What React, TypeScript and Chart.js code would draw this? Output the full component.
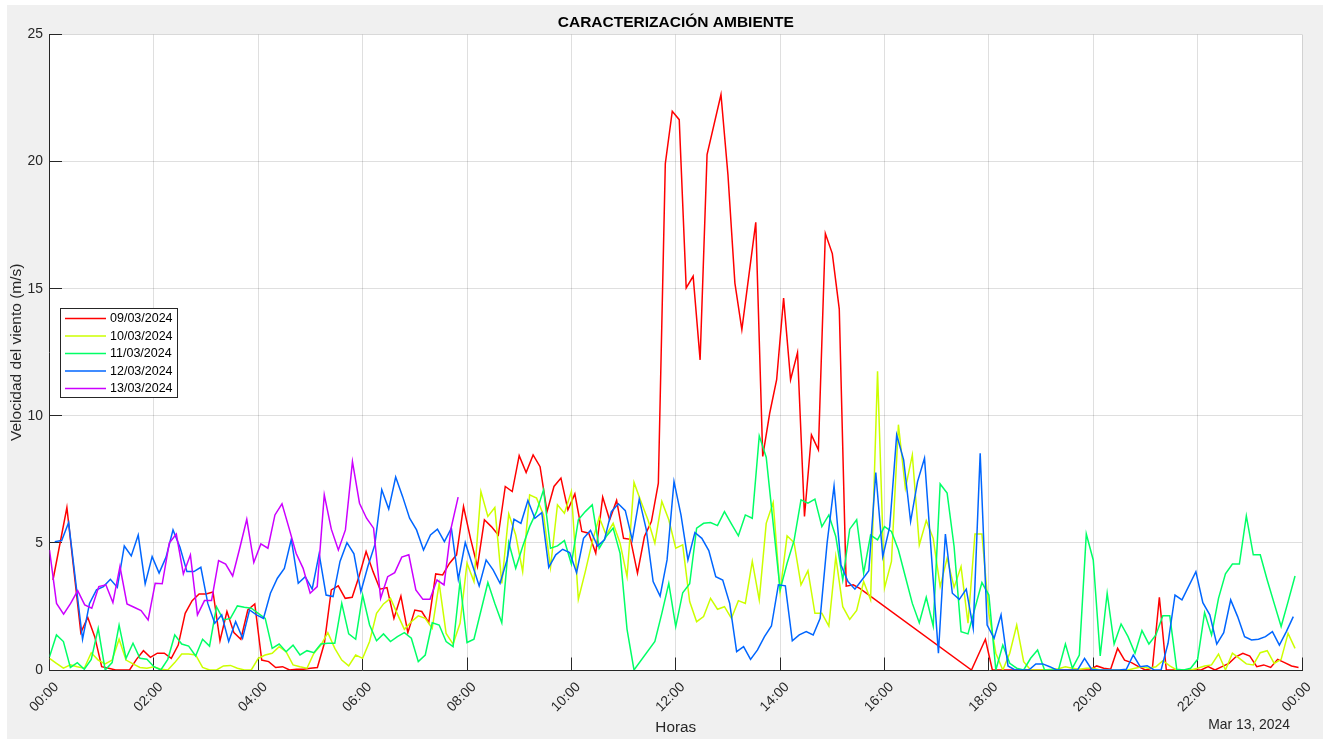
import React, { useEffect, useRef } from 'react';
import { Chart, registerables } from 'chart.js';

Chart.register(...registerables);

const CHART_TITLE = 'CARACTERIZACIÓN AMBIENTE';
const Y_TITLE = 'Velocidad del viento (m/s)';
const X_TITLE = 'Horas';
const DATE_LABEL = 'Mar 13, 2024';

const SERIES_LABELS = ['09/03/2024', '10/03/2024', '11/03/2024', '12/03/2024', '13/03/2024'];
const SERIES_COLORS = ['#ff0000', '#ccff00', '#00ff66', '#0066ff', '#cc00ff'];
const SERIES_STEP_MIN = [8, 8, 8, 8, 8.1];
const SERIES_START_MIN = [4, 0, 0, 6, 0];

const Y_TICKS = [0, 5, 10, 15, 20, 25];
const X_TICK_HOURS = [0, 2, 4, 6, 8, 10, 12, 14, 16, 18, 20, 22, 24];

const N = null;

const v0903 = [
  3.54, N, 6.39, N, 1.47, 2.07, 1.31, 0.13, 0.07, 0,
  0, 0, 0.42, 0.76, 0.5, 0.66, 0.66, 0.46, 0.98, 2.23,
  2.73, 2.99, 2.99, 3.07, 1.15, 2.3, 1.47, 1.21, 2.36, 2.6,
  0.39, 0.33, 0.1, 0.13, 0, 0.03, 0.03, 0.07, 0.1, 1.05,
  3.15, 3.31, 2.82, 2.86, 3.7, 4.66, 3.87, 3.18, 3.24, 2.03,
  2.91, 1.47, 2.36, 2.3, 1.86, 3.78, 3.74, 4.2, 4.53, 6.43,
  5.18, 4.07, 5.91, 5.64, 5.31, 7.22, 7.02, 8.43, 7.77, 8.46,
  8.0, 6.23, 7.22, 7.55, 6.3, 6.93, 5.45, 5.38, 4.59, 6.8,
  5.91, 6.67, 5.18, 5.14, 3.81, 5.25, 5.84, 7.35,
  19.92, 21.98, 21.65, 15.03, 15.49, 12.2, 20.28, N, 22.64, 19.49,
  15.22, 13.39, N, 17.61, 8.4, 10.1, 11.42, 14.63, 11.42, 12.49,
  6.04, 9.25, 8.66, 17.17, 16.38, 14.2, 3.3, 3.35, 3.2,
  N, N, N, N, N, N, N, N, N, N, N, N, N, N, N,
  0, N, 1.21,
  0, 0, 0, 0, 0, 0, 0, 0, 0, 0, 0, 0, 0, 0, 0,
  0.16, 0.07, 0.03, 0.85, 0.39, 0.29, 0.13, 0, 0.07, 2.86,
  0, 0, 0, 0, 0, 0, 0.13, 0, 0.13, 0.26,
  0.52, 0.66, 0.55, 0.13, 0.2, 0.1, 0.42, 0.29, 0.16, 0.1,
];

const v1003 = [
  0.46, 0.26, 0.07, 0.2, 0.13, 0.07, 0.68, 0.39, 0.24, 0.39,
  1.21, 0.39, 0.24, 0.1, 0.07, 0.13, 0.03, 0, 0.29, 0.63,
  0.63, 0.59, 0.1, 0, 0, 0.16, 0.18, 0.07, 0, 0,
  0.46,
  0.59, 0.66, 0.92, 0.72, 0.2, 0.13, 0.07, 0.66, 0.98, 1.47,
  0.85, 0.39, 0.16, 0.59, 0.46, 1.12, 2.23, 2.6, 2.82, 2.2,
  1.6, 1.9, 2.13, 2.03, 1.64, 3.41, 1.44, 1.02, 1.84, 4.2,
  3.48, 7.02, 6.04, 6.39, 3.41, 6.14, 5.31, 3.87, 6.89, 6.76,
  6.1, 4.04, 6.5, 6.17, 7.02, 2.78, 3.87, 5.05, 6.01, 5.31,
  5.77, 4.99, 3.67, 7.38, 6.63, 5.91, 4.99, 6.63, 5.91, 4.79, 4.92,
  2.69, 1.9, 2.1, 2.82, 2.39, 2.49, 2.03, 2.73, 2.62, 4.27,
  2.76, 5.77, 6.59, 3.08, 5.28, 5.01, 3.35, 3.91, 2.23, 2.23,
  1.73, 4.46, 2.49, 1.99, 2.34, 3.48, 2.76, 11.75, 3.22, 4.27,
  9.65, 7.15, 8.46, 4.92, 5.88, 5.18, 3.28, 4.4, 3.25, 4.07,
  1.84, 5.35, 5.35, 2.23, 0.66, 0, 0.66, 1.77, 0.33, 0,
  0, 0, 0.03, 0.05, 0.13, 0.07, 0.03, 0.07,
  0.07, 0, 0, 0, 0, 0, 0.07, 0.13, 0.07, 0.13,
  0.37, 0.16, 0, 0, 0, 0.07, 0.16, 0.2, 0.63, 0,
  0.66, 0.46, 0.24, 0.2, 0.68, 0.76, 0.26, 0.42, 1.44, 0.85,
];

const v1103 = [
  0.52, 1.38, 1.12, 0.1, 0.29, 0.03, 0.42, 1.64, 0, 0.29,
  1.77, 0.46, 1.05, 0.46, 0.42, 0.13, 0, 0.42, 1.38, 1.02,
  0.94, 0.55, 1.21, 0.94, 2.49, 1.97, 2.03, 2.52, 2.47, 2.43,
  2.23, 2.03,
  0.85, 1.02, 0.72, 0.98, 0.59, 0.76, 0.68, 1.02, 1.05, 1.05,
  2.62, 1.42, 1.21, 2.95, 1.77, 1.15, 1.42, 1.12, 1.31, 1.47,
  1.25, 0.33, 0.59, 1.86, 1.77, 1.12, 0.92, 3.48, 1.08,
  1.21, N, 3.44, 2.62, 1.86, 5.01, 4.0, 4.86, 5.64, 6.23,
  7.09, 4.79, 4.88, 5.09, 4.17, 5.91, 6.23, 6.5, 4.79, 5.25,
  5.58, 4.59, 1.6, 0, N, N, 1.12, 2.23, 3.41, 1.71,
  3.04, 3.39, 5.58, 5.77, 5.8, 5.68, 6.23, 5.75, 5.28, 6.1,
  5.97, 9.21, 8.37, N, 3.15, 4.2, 5.09, 6.69, 6.56, 6.72,
  5.64, 6.1, 5.25, 3.54, 5.54, 5.91, 3.81, 5.31, 5.12, 5.64,
  5.45, 4.72, 3.67, 2.62, 1.86, 2.86, 1.73, 7.32, 6.96, 4.86,
  1.51, 1.42, N, 3.44, 2.95, 0, 0.98, 0.26, 0.07, 0,
  0.46, 0.79, 0, 0, 0, 1.02, 0.07, 0.59, 5.35, 4.33,
  0.55, 3.02, 1.02, 1.81, 1.31, 0.66, 1.55, 1.02, 1.38, 2.13,
  2.13, 0.03, 0, 0.07, 0.42, 2.26, 1.38, 2.82, 3.78, 4.17,
  4.17, 6.06, 4.53, 4.53, 3.54, 2.62, 1.71, 2.69, 3.7,
];

const v1203 = [
  5.05, 5.09, 5.8, N, 1.21, 2.62, 3.15, 3.28, 3.57, 3.25,
  4.88, 4.49, 5.31, 3.39, 4.46, 3.81, 4.44, 5.51, 4.83, 3.87,
  3.87, 4.04, 2.62, 1.84, 2.17, 1.12, 1.9, 1.25, 2.36, 2.17,
  2.03, 3.02, 3.61, 4.0, 5.14, 3.41, 3.67, 3.18, 4.57, 2.95,
  2.89, 4.27, 5.01, 4.57, 3.08, 4.07, 4.92, 7.09, 6.33, 7.59,
  6.82, 5.97, 5.51, 4.72, 5.31, 5.54, 5.05, 5.58, 3.57, 5.01,
  N,
  3.31, 4.33, 3.94, 3.41, 4.33, 5.93, 5.77, 6.67, 5.97, 6.19,
  4.04, 4.53, 4.75, 4.62, 3.83, 5.18, 5.49, 4.88, 5.12, 6.23,
  6.54, 6.27, 5.12, 6.72, 5.54, 3.48, 2.91, 4.33, 7.41,
  6.1, 4.33, 5.41, 5.18, 4.7, 3.67, 3.54, 2.62, 0.72, 0.92,
  0.42, 0.79, 1.31, 1.73, 3.35, 3.31, 1.15, 1.38, 1.51, 1.38,
  2.03, 4.99, 7.24, 4.13, 3.48, 3.18, 3.54, 3.91, 7.77, 4.46,
  5.64, 9.25,
  8.27, 5.84, 7.41, 8.33, N, 0.66, 5.35, 3.02, 2.78, 3.18,
  1.64, 8.53, 1.77, 1.25, 2.17, 0.16, 0, 0, 0, 0.24,
  0.24, 0.13, 0, 0, 0, 0, 0.46, 0.03,
  0, 0, 0, 0, 0.03, 0.59, 0.13, 0.17, 0, 0,
  1.05, 2.95, 2.76, N, 3.87, 2.65, 2.17, 1.02, 1.47, 2.76,
  2.1, 1.31, 1.18, 1.21, 1.31, 1.51, 0.98, 1.51, 2.1,
];

const v1303 = [
  4.72, 2.62, 2.2, 2.62, 3.12, 2.56, 2.43, 3.28, 3.35, 2.65,
  4.07, 2.6, 2.47, 2.34, 1.97, 3.41, 3.39, 4.99, 5.35, 3.78,
  4.53, 2.17, 2.73, 2.73, 4.3, 4.17, 3.7, 4.79, 5.93, 4.23,
  4.96, 4.79, 6.1, 6.54, 5.58, 4.59, 4.0, 3.02, 3.28, 6.89,
  5.54, 4.72, 5.51, 8.2, 6.56, 5.97, 5.58, 2.82, 3.67, 3.83,
  4.44, 4.53, 3.15, 2.78, 2.78, 3.54, 3.35, 5.58, 6.8,
];

const SERIES_VALUES = [v0903, v1003, v1103, v1203, v1303];

const FONT = '"Liberation Sans", Arial, Helvetica, sans-serif';
const AXIS_COLOR = '#262626';

function toPoints(values: (number | null)[], startMin: number, stepMin: number) {
  return values.map((v, k) => ({ x: (startMin + k * stepMin) / 60, y: v }));
}

function hourLabel(h: number) {
  return String(h % 24).padStart(2, '0') + ':00';
}

const plotBackground = {
  id: 'plotBackground',
  beforeDraw(chart: any) {
    const { ctx, chartArea } = chart;
    ctx.save();
    ctx.fillStyle = '#ffffff';
    ctx.fillRect(chartArea.left, chartArea.top, chartArea.right - chartArea.left, chartArea.bottom - chartArea.top);
    ctx.restore();
  },
};

const innerTicks = {
  id: 'innerTicks',
  beforeDatasetsDraw(chart: any) {
    const { ctx, chartArea, scales } = chart;
    const len = 12.5;
    ctx.save();
    ctx.strokeStyle = AXIS_COLOR;
    ctx.lineWidth = 1;
    ctx.beginPath();
    for (const t of Y_TICKS) {
      const py = Math.round(scales.y.getPixelForValue(t) - 0.5) + 0.5;
      ctx.moveTo(chartArea.left, py);
      ctx.lineTo(chartArea.left + len, py);
    }
    for (const h of X_TICK_HOURS) {
      const px = Math.round(scales.x.getPixelForValue(h) - 0.5) + 0.5;
      ctx.moveTo(px, chartArea.bottom);
      ctx.lineTo(px, chartArea.bottom - len);
    }
    ctx.stroke();
    ctx.restore();
  },
};

const boxLegend = {
  id: 'boxLegend',
  afterDatasetsDraw(chart: any) {
    const { ctx, chartArea } = chart;
    const x0 = Math.round(chartArea.left + 10.5);
    const y0 = Math.round(chartArea.top + 273);
    const w = 117;
    const h = 89;
    ctx.save();
    ctx.fillStyle = '#ffffff';
    ctx.fillRect(x0, y0, w, h);
    ctx.strokeStyle = AXIS_COLOR;
    ctx.lineWidth = 1;
    ctx.strokeRect(x0 + 0.5, y0 + 0.5, w, h);
    chart.data.datasets.forEach((ds: any, i: number) => {
      const cy = y0 + 10.5 + i * 17.5;
      ctx.strokeStyle = ds.borderColor;
      ctx.lineWidth = 1.5;
      ctx.beginPath();
      ctx.moveTo(x0 + 5, cy);
      ctx.lineTo(x0 + 46, cy);
      ctx.stroke();
      ctx.fillStyle = '#000000';
      ctx.font = '12.5px ' + FONT;
      ctx.textAlign = 'left';
      ctx.textBaseline = 'middle';
      ctx.fillText(ds.label, x0 + 50, cy + 0.5);
    });
    ctx.restore();
  },
};

const extraTexts = {
  id: 'extraTexts',
  afterDraw(chart: any) {
    const { ctx, chartArea } = chart;
    ctx.save();
    ctx.fillStyle = '#000000';
    ctx.font = 'bold 15.5px ' + FONT;
    ctx.textAlign = 'center';
    ctx.textBaseline = 'middle';
    ctx.fillText(CHART_TITLE, (chartArea.left + chartArea.right) / 2, chartArea.top - 12);
    ctx.fillStyle = AXIS_COLOR;
    ctx.font = '13.9px ' + FONT;
    ctx.textAlign = 'right';
    ctx.fillText(DATE_LABEL, chartArea.right - 12, chartArea.bottom + 55.5);
    ctx.restore();
  },
};

export default function App() {
  const canvasRef = useRef<HTMLCanvasElement | null>(null);

  useEffect(() => {
    const canvas = canvasRef.current;
    if (!canvas) return;
    const datasets = SERIES_LABELS.map((label, i) => ({
      label,
      data: toPoints(SERIES_VALUES[i], SERIES_START_MIN[i], SERIES_STEP_MIN[i]),
      borderColor: SERIES_COLORS[i],
      backgroundColor: SERIES_COLORS[i],
      borderWidth: 1.5,
      pointRadius: 0,
      pointHoverRadius: 0,
      tension: 0,
      fill: false,
      spanGaps: true,
      order: SERIES_LABELS.length - i,
    }));

    const chart = new Chart(canvas, {
      type: 'line',
      data: { datasets },
      options: {
        responsive: false,
        animation: false,
        devicePixelRatio: 1,
        parsing: false as any,
        normalized: true,
        layout: { padding: { top: 29.5, right: 21, bottom: 0, left: 0 } },
        plugins: {
          legend: { display: false },
          tooltip: { enabled: false },
          title: { display: false },
        },
        scales: {
          x: {
            type: 'linear',
            min: 0,
            max: 24,
            afterFit: (scale: any) => { scale.height = 69; },
            ticks: {
              stepSize: 2,
              autoSkip: false,
              minRotation: 45,
              maxRotation: 45,
              padding: 9,
              labelOffset: 7,
              color: AXIS_COLOR,
              font: { family: FONT, size: 13.9 },
              callback: (v: any) => hourLabel(Number(v)),
            },
            grid: { color: 'rgba(38,38,38,0.15)', drawTicks: false, lineWidth: 1 },
            border: { display: true, color: AXIS_COLOR, width: 1 },
            title: {
              display: true,
              text: X_TITLE,
              color: AXIS_COLOR,
              font: { family: FONT, size: 15.3 },
              padding: { top: 0, bottom: 2.5 },
            },
          },
          y: {
            type: 'linear',
            min: 0,
            max: 25,
            afterFit: (scale: any) => { scale.width = 42.5; },
            ticks: {
              stepSize: 5,
              padding: 6.5,
              color: AXIS_COLOR,
              font: { family: FONT, size: 13.9 },
            },
            grid: { color: 'rgba(38,38,38,0.15)', drawTicks: false, lineWidth: 1 },
            border: { display: true, color: AXIS_COLOR, width: 1 },
            title: {
              display: true,
              text: Y_TITLE,
              color: AXIS_COLOR,
              font: { family: FONT, size: 15.5 },
              padding: { top: 0, bottom: 0 },
            },
          },
        },
      },
      plugins: [plotBackground, innerTicks, boxLegend, extraTexts],
    });
    return () => chart.destroy();
  }, []);

  return (
    <div
      style={{
        position: 'absolute',
        left: 7,
        top: 5,
        width: 1316,
        height: 734,
        background: '#f0f0f0',
      }}
    >
      <canvas ref={canvasRef} width={1316} height={734} style={{ display: 'block', width: 1316, height: 734 }} />
    </div>
  );
}
